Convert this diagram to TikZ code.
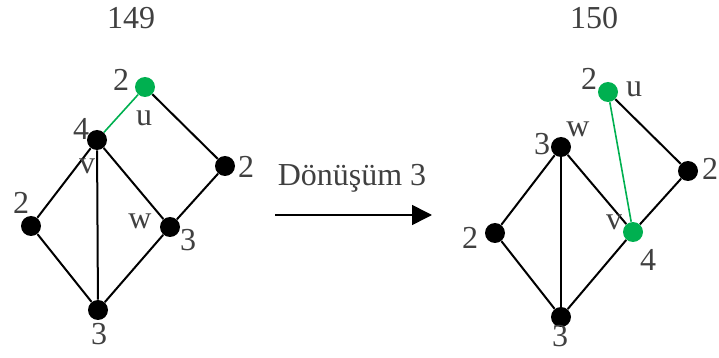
\documentclass[tikz,border=0pt]{standalone}
\usepackage{fontspec}
\setmainfont{Liberation Serif}
\usetikzlibrary{arrows.meta}
\definecolor{ngreen}{HTML}{00B050}
\definecolor{ngray}{HTML}{404040}

\begin{document}
\begin{tikzpicture}[x=0.5pt,y=-0.5pt,
  vtx/.style={circle,fill=black,inner sep=0pt,minimum size=10pt},
  hot/.style={vtx,fill=ngreen},
  edge/.style={line width=1pt},
  hotedge/.style={ngreen,line width=0.8pt},
  tag/.style={text=ngray,font=\fontsize{16}{18}\selectfont,inner sep=0pt}]
 \useasboundingbox (0,0) rectangle (719,358);
 % left graph (149)
 \node[tag] (t1) at (131,18) {149};
 \node[hot] (u1) at (145,87) {};
 \node[vtx] (v1) at (97,140) {};
 \node[vtx] (r1) at (225,166) {};
 \node[vtx] (w1) at (170,227) {};
 \node[vtx] (l1) at (31,226) {};
 \node[vtx] (b1) at (98,310) {};
 \draw[hotedge] (u1) -- (v1);
 \foreach \a/\b in {u1/r1,v1/l1,v1/b1,v1/w1,r1/w1,w1/b1,l1/b1}
  \draw[edge] (\a) -- (\b);
 \node[tag] (du1) at (121,80) {2};
 \node[tag] (nu1) at (144,118) {u};
 \node[tag] (dv1) at (81,129) {4};
 \node[tag] (nv1) at (87,166) {v};
 \node[tag] (dl1) at (21,203) {2};
 \node[tag] (nw1) at (140,221) {w};
 \node[tag] (dw1) at (188,240) {3};
 \node[tag] (dr1) at (246,167) {2};
 \node[tag] (db1) at (99,334) {3};
 % arrow
 \node[tag] (lab) at (352,178) {Dönüşüm 3};
 \coordinate (a0) at (275,215);
 \coordinate (a1) at (432,215);
 \draw[line width=0.8pt,-{Triangle[length=10pt,width=10pt]}] (a0) -- (a1);
 % right graph (150)
 \node[tag] (t2) at (594,18) {150};
 \node[hot] (u2) at (608,92) {};
 \node[vtx] (w2) at (561,147) {};
 \node[vtx] (r2) at (688,171) {};
 \node[vtx] (l2) at (495,233) {};
 \node[hot] (v2) at (633,232) {};
 \node[vtx] (b2) at (561,317) {};
 \draw[hotedge] (u2) -- (v2);
 \foreach \a/\b in {u2/r2,w2/l2,w2/b2,w2/v2,r2/v2,v2/b2,l2/b2}
  \draw[edge] (\a) -- (\b);
 \node[tag] (du2) at (589,79) {2};
 \node[tag] (nu2) at (634,89) {u};
 \node[tag] (dw2) at (542,144) {3};
 \node[tag] (nw2) at (578,129) {w};
 \node[tag] (dr2) at (710,169) {2};
 \node[tag] (dl2) at (470,238) {2};
 \node[tag] (nv2) at (614,222) {v};
 \node[tag] (dv2) at (648,260) {4};
 \node[tag] (db2) at (560,336) {3};
\end{tikzpicture}
\end{document}
